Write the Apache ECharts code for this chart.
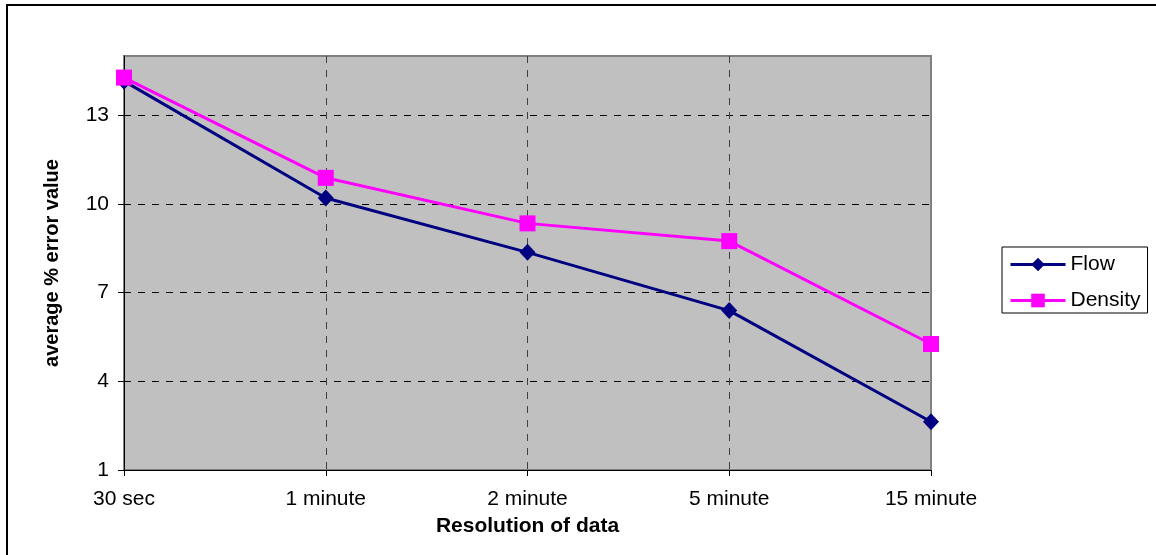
<!DOCTYPE html>
<html>
<head>
<meta charset="utf-8">
<script src="https://cdn.jsdelivr.net/npm/echarts@6/dist/echarts.min.js"></script>
<style>
html,body{margin:0;padding:0;background:#fff;}
#chart{width:1156px;height:555px;}
</style>
</head>
<body>
<div id="chart"></div>
<script>
const categories = ['30 sec', '1 minute', '2 minute', '5 minute', '15 minute'];
const flow = [14.15, 10.2, 8.36, 6.39, 2.63];
const density = [14.27, 10.88, 9.34, 8.74, 5.26];
const yMin = 1, yMax = 15, yStep = 3;

const font = '"Liberation Sans", Arial, sans-serif';
const chart = echarts.init(document.getElementById('chart'), null, {renderer: 'canvas'});
chart.setOption({
  animation: false,
  backgroundColor: '#ffffff',
  graphic: [{
    type: 'rect', z: 100, silent: true,
    shape: {x: 7, y: 5, width: 1400, height: 800},
    style: {fill: 'none', stroke: '#000', lineWidth: 2}
  }],
  grid: {
    left: 124, top: 56, right: 225, bottom: 85,
    show: true, backgroundColor: '#c0c0c0', borderColor: '#808080', borderWidth: 2
  },
  legend: {
    orient: 'vertical',
    left: 1002, top: 247,
    padding: [7, 7, 2, 7],
    borderColor: '#000', borderWidth: 1,
    backgroundColor: '#fff',
    itemWidth: 55, itemHeight: 17, itemGap: 15,
    lineStyle: {width: 3},
    textStyle: {fontFamily: font, fontSize: 21, color: '#000'},
    data: ['Flow', 'Density']
  },
  xAxis: {
    type: 'category',
    data: categories,
    boundaryGap: false,
    name: 'Resolution of data',
    nameLocation: 'middle',
    nameGap: 46,
    nameTextStyle: {fontFamily: font, fontSize: 21, fontWeight: 'bold', color: '#000'},
    axisLine: {lineStyle: {color: '#000', width: 1}},
    axisTick: {show: true, length: 6, lineStyle: {color: '#000'}, alignWithLabel: true},
    axisLabel: {fontFamily: font, fontSize: 21, color: '#000', margin: 19},
    splitLine: {show: true, showMinLine: false, showMaxLine: false, lineStyle: {color: '#404040', type: [7, 7], width: 1}}
  },
  yAxis: {
    type: 'value',
    min: yMin, max: yMax, interval: yStep,
    name: 'average % error value',
    nameLocation: 'middle',
    nameGap: 62,
    nameRotate: 90,
    nameTextStyle: {fontFamily: font, fontSize: 20, fontWeight: 'bold', color: '#000'},
    axisLine: {show: true, lineStyle: {color: '#000', width: 1}},
    axisTick: {show: true, length: 6, lineStyle: {color: '#000'}},
    axisLabel: {fontFamily: font, fontSize: 21, color: '#000', margin: 15, showMaxLabel: false},
    splitLine: {show: true, showMinLine: false, showMaxLine: false, lineStyle: {color: '#000', type: [7, 7], width: 1}}
  },
  series: [
    {
      name: 'Flow', type: 'line', data: flow,
      symbol: 'diamond', symbolSize: [16, 17],
      lineStyle: {color: '#000080', width: 3},
      itemStyle: {color: '#000080'}
    },
    {
      name: 'Density', type: 'line', data: density,
      symbol: 'rect', symbolSize: 16,
      lineStyle: {color: '#ff00ff', width: 3},
      itemStyle: {color: '#ff00ff'}
    }
  ]
});
</script>
</body>
</html>
